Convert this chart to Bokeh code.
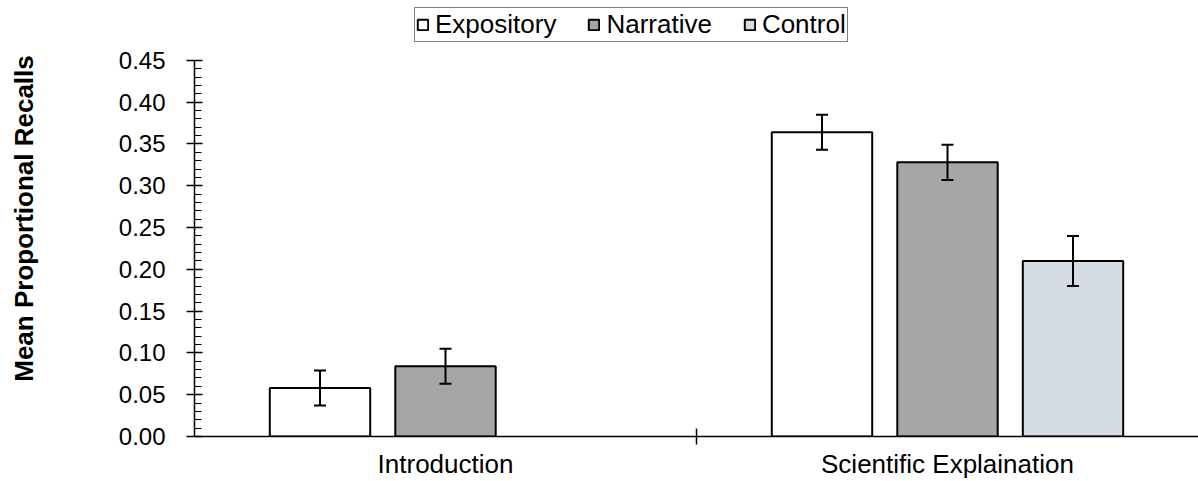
from bokeh.plotting import figure
from bokeh.models import (Range1d, FixedTicker, ColumnDataSource, Whisker, TeeHead,
                          Legend, LegendItem, NumeralTickFormatter)
from bokeh.embed import file_html
from bokeh.resources import INLINE

# ---- data ----
categories = ["Introduction", "Scientific Explaination"]
series = ["Expository", "Narrative", "Control"]
expository = [0.058, 0.364]
expository_err = [0.021, 0.021]
narrative = [0.084, 0.328]
narrative_err = [0.021, 0.021]
control = [None, 0.210]
control_err = [None, 0.030]
y_ticks = [0.00, 0.05, 0.10, 0.15, 0.20, 0.25, 0.30, 0.35, 0.40, 0.45]
y_minor = [round(i * 0.01, 2) for i in range(0, 46)]

colors = ["#ffffff", "#a6a6a6", "#d6dce5"]
offsets = [-0.25, 0.0, 0.25]
bar_w = 0.2
FONT = "Liberation Sans"

W, H = 1198, 481
BOTTOM = 44          # space under the plot area
TOP_PAD = 60         # pixels between top of plot area and the 0.45 tick
frame_h = H - BOTTOM
y_end = y_ticks[-1] * frame_h / (frame_h - TOP_PAD)

p = figure(width=W, height=H, output_backend="svg", toolbar_location=None,
           x_range=Range1d(0, 2), y_range=Range1d(0, y_end),
           min_border_left=194, min_border_right=0, min_border_top=0, min_border_bottom=BOTTOM)
p.grid.visible = False
p.outline_line_color = None
p.background_fill_color = "white"

renderers = []
for name, vals, errs, col, off in zip(series, [expository, narrative, control],
                                      [expository_err, narrative_err, control_err],
                                      colors, offsets):
    xs, tops, ups, los = [], [], [], []
    for i, (v, e) in enumerate(zip(vals, errs)):
        if v is None:
            continue
        xs.append(i + 0.5 + off)
        tops.append(v)
        ups.append(v + e)
        los.append(v - e)
    src = ColumnDataSource(dict(x=xs, top=tops, upper=ups, lower=los))
    r = p.vbar(x="x", top="top", width=bar_w, bottom=0, source=src,
               fill_color=col, line_color="black", line_width=2)
    renderers.append(r)
    w = Whisker(source=src, base="x", upper="upper", lower="lower", level="overlay",
                line_color="black", line_width=2,
                upper_head=TeeHead(size=12, line_color="black", line_width=2),
                lower_head=TeeHead(size=12, line_color="black", line_width=2))
    p.add_layout(w)

# y axis
ya = p.yaxis[0]
ya.bounds = (y_ticks[0], y_ticks[-1])
ya.ticker = FixedTicker(ticks=y_ticks, minor_ticks=y_minor)
ya.formatter = NumeralTickFormatter(format="0.00")
ya.major_tick_in = 8
ya.major_tick_out = 8
ya.minor_tick_in = 7
ya.minor_tick_out = 0
ya.axis_line_color = "black"
ya.axis_line_width = 1.5
ya.major_tick_line_width = 1.5
ya.major_label_text_font = FONT
ya.major_label_text_font_size = "24px"
ya.major_label_text_color = "black"
ya.major_label_standoff = 21
ya.axis_label = "Mean Proportional Recalls"
ya.axis_label_text_font = FONT
ya.axis_label_text_font_style = "bold"
ya.axis_label_text_font_size = "26px"
ya.axis_label_text_color = "black"
ya.axis_label_standoff = 77

# x axis
xa = p.xaxis[0]
xa.ticker = FixedTicker(ticks=[0.5, 1.5], minor_ticks=[1.0])
xa.major_label_overrides = {i + 0.5: c for i, c in enumerate(categories)}
xa.major_tick_in = 0
xa.major_tick_out = 0
xa.minor_tick_in = 8
xa.minor_tick_out = 8
xa.minor_tick_line_width = 1.5
xa.axis_line_color = "black"
xa.axis_line_width = 1.5
xa.major_label_text_font = FONT
xa.major_label_text_font_size = "26px"
xa.major_label_text_color = "black"
xa.major_label_standoff = 4

legend = Legend(items=[LegendItem(label=s, renderers=[r]) for s, r in zip(series, renderers)],
                orientation="horizontal", location=(220, frame_h - 43))
legend.glyph_width = 13
legend.glyph_height = 13
legend.label_standoff = 6
legend.spacing = 31
legend.padding = 1
legend.margin = 0
legend.border_line_color = "black"
legend.border_line_width = 1.5
legend.label_text_font = FONT
legend.label_text_font_size = "26px"
legend.label_text_color = "black"
legend.background_fill_alpha = 1
p.add_layout(legend)

open("out.html", "w").write(file_html(p, INLINE))
